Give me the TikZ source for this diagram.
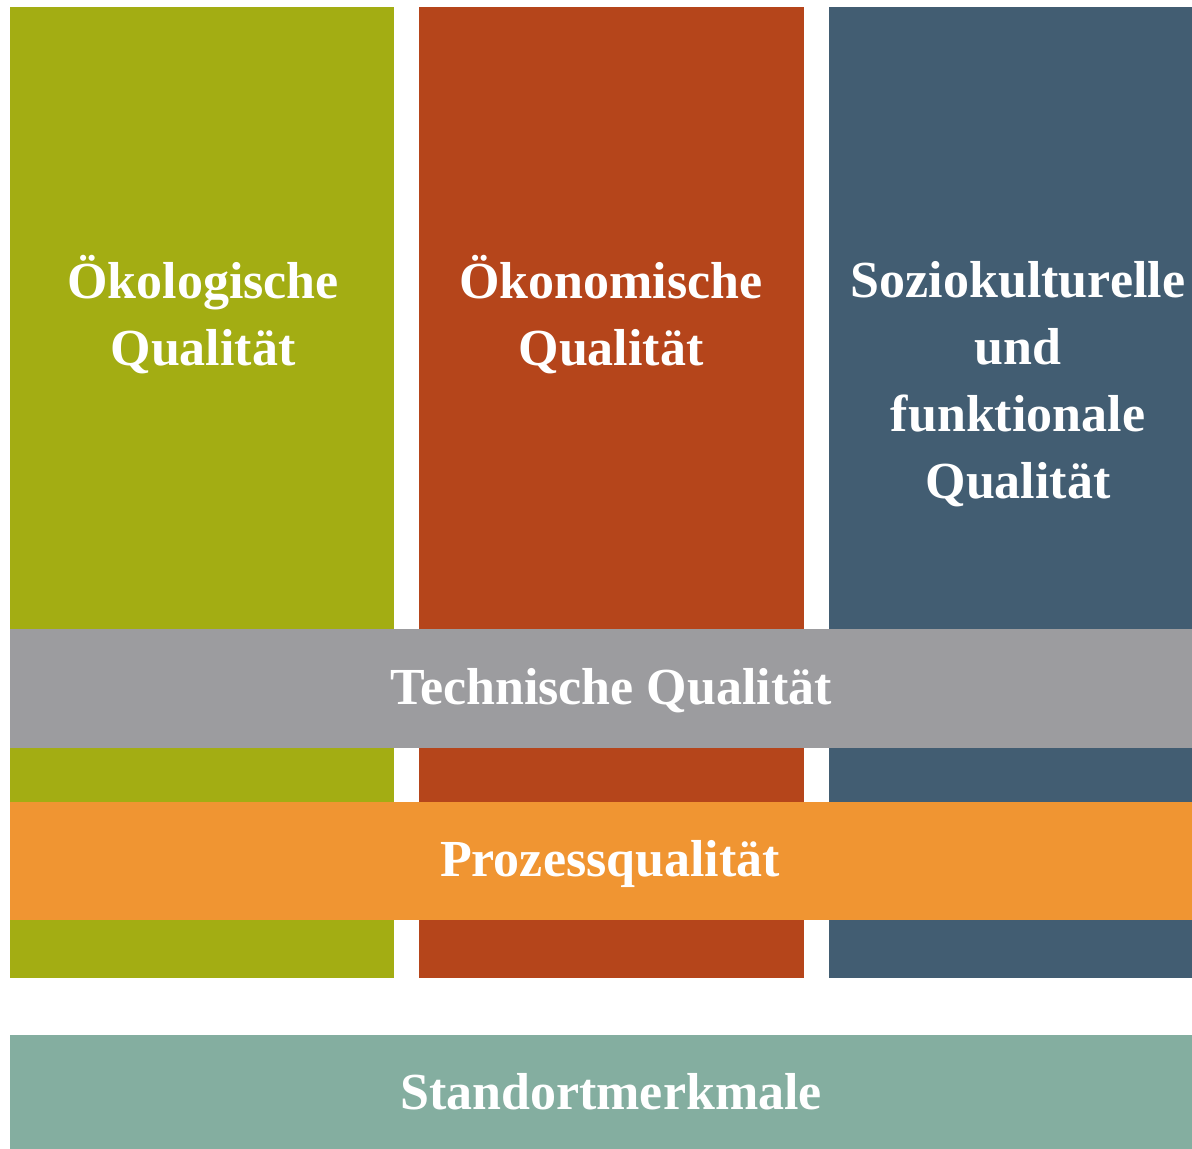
\documentclass[tikz,border=0pt]{standalone}
\usepackage{fontspec}
\setmainfont{Liberation Serif}
\definecolor{cgreen}{HTML}{A3AD13}
\definecolor{cred}{HTML}{B5451B}
\definecolor{cblue}{HTML}{425D72}
\definecolor{cgray}{HTML}{9C9C9F}
\definecolor{corange}{HTML}{F09532}
\definecolor{cteal}{HTML}{84AEA0}
\begin{document}
\begin{tikzpicture}[x=1pt,y=-1pt,
  lbl/.style={text=white,font=\fontsize{52}{67}\selectfont\bfseries,align=center,inner sep=0pt,anchor=base}]
\useasboundingbox (0,0) rectangle (1192,1149);
\fill[white] (0,0) rectangle (1192,1149);
\fill[cgreen] (10,7) rectangle (394,978);
\fill[cred] (419,7) rectangle (804,978);
\fill[cblue] (829,7) rectangle (1192,978);
\fill[cgray] (10,629) rectangle (1192,748);
\fill[corange] (10,802) rectangle (1192,920);
\fill[cteal] (10,1035) rectangle (1192,1149);
\node[lbl] (oeko) at (203,365) {Ökologische\\Qualität};
\node[lbl] (oekon) at (611,365) {Ökonomische\\Qualität};
\node[lbl] (sozio) at (1018,498) {Soziokulturelle\\und\\funktionale\\Qualität};
\node[lbl] (tech) at (611,704) {Technische Qualität};
\node[lbl] (proz) at (610,876) {Prozessqualität};
\node[lbl] (stand) at (611,1109) {Standortmerkmale};
\end{tikzpicture}
\end{document}
